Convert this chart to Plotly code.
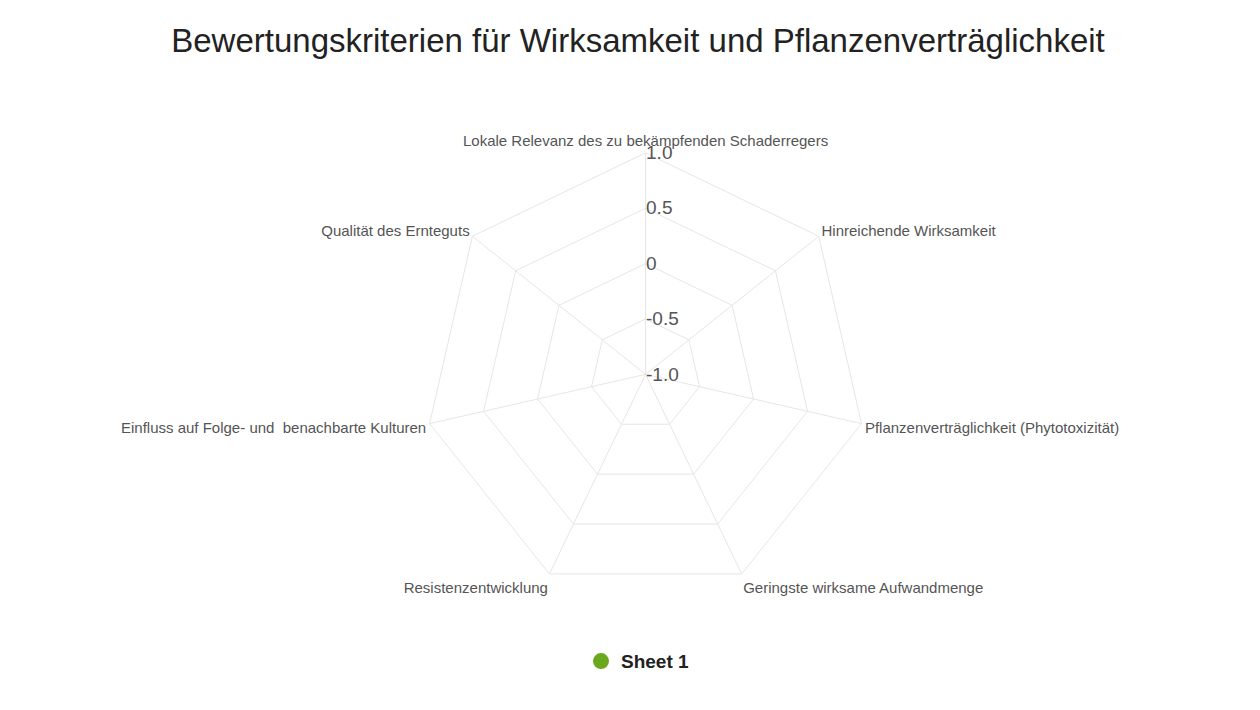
import plotly.graph_objects as go

categories = [
    "Lokale Relevanz des zu bekämpfenden Schaderregers",
    "Hinreichende Wirksamkeit",
    "Pflanzenverträglichkeit (Phytotoxizität)",
    "Geringste wirksame Aufwandmenge",
    "Resistenzentwicklung",
    "Einfluss auf Folge- und  benachbarte Kulturen",
    "Qualität des Ernteguts",
]
values = [None] * len(categories)
tick_vals = [-1, -0.5, 0, 0.5, 1]
tick_text = ["-1.0", "-0.5", "0", "0.5", "1.0"]

fig = go.Figure()
fig.add_trace(go.Scatterpolar(
    r=values, theta=categories, name="<b>Sheet 1</b>", mode="markers",
    marker=dict(color="#6aa81e", size=30), showlegend=True,
))

grid = "#e6e6e6"
fig.update_layout(
    width=1260, height=710,
    paper_bgcolor="white",
    font=dict(family="Liberation Sans, Arial, sans-serif"),
    title=dict(text="Bewertungskriterien für Wirksamkeit und Pflanzenverträglichkeit",
               x=0.5, y=0.955, xanchor="center", yanchor="middle",
               font=dict(size=33, color="#222")),
    margin=dict(l=0, r=0, t=0, b=0),
    polar=dict(
        domain=dict(x=[0.33, 0.682], y=[0.172, 0.796]),
        gridshape="linear",
        bgcolor="white",
        angularaxis=dict(rotation=90, direction="clockwise",
                         gridcolor=grid, linecolor=grid, showline=True,
                         ticks="", tickfont=dict(size=15, color="#555")),
        radialaxis=dict(range=[-1, 1], tickvals=tick_vals, ticktext=tick_text,
                        angle=90, tickangle=90, showline=False, ticks="",
                        gridcolor=grid, tickfont=dict(size=19, color="#555")),
    ),
    legend=dict(orientation="h", x=0.5, xanchor="center", y=0.08, yanchor="middle",
                font=dict(size=19, color="#222", family="Liberation Sans, Arial, sans-serif")),
)

fig.write_html("out.html")
